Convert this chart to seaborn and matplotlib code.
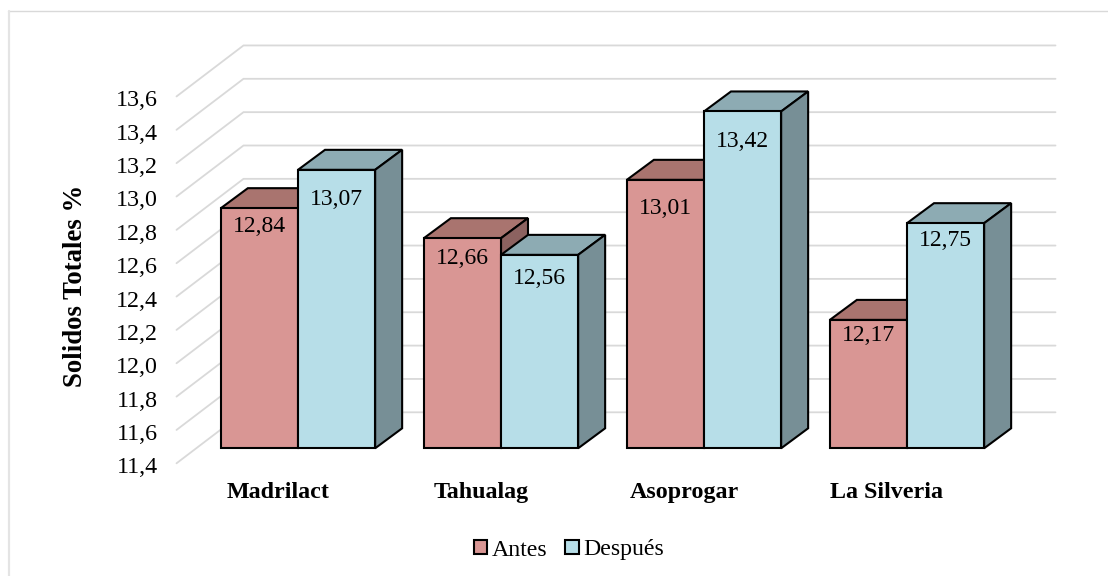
import numpy as np
import pandas as pd
import matplotlib
matplotlib.use('Agg')
import matplotlib.pyplot as plt
from matplotlib.patches import Polygon, Rectangle
from matplotlib.lines import Line2D
from matplotlib.transforms import ScaledTranslation
import seaborn as sns

categorias = ['Madrilact', 'Tahualag', 'Asoprogar', 'La Silveria']
antes = [12.84, 12.66, 13.01, 12.17]
despues = [13.07, 12.56, 13.42, 12.75]
y_ticks = [11.4, 11.6, 11.8, 12.0, 12.2, 12.4, 12.6, 12.8, 13.0, 13.2, 13.4, 13.6]

# bajada de cada etiqueta respecto a la cara superior (px)
baja_antes = [18, 20, 29, 16]
baja_despues = [30, 24, 30, 17]

W, H = 1108, 576
color_antes = '#D99694'
color_despues = '#B7DEE8'
top_antes = '#A9746F'
top_despues = '#8DABB3'
side_antes = '#8C6260'
side_despues = '#778F96'

sns.set_theme(style='white')
plt.rcParams['font.family'] = ['Liberation Serif', 'DejaVu Serif']
plt.rcParams['font.size'] = 17

fig = plt.figure(figsize=(W / 100, H / 100), dpi=100)

# el eje es el plano frontal de las barras, el piso queda 15 px mas abajo
px_x = 203.0
px_y = 166.75
x_izq, x_der = 196.5, 1008.5
y_base = 448.3
piso_dy = 15.0
ymin = y_ticks[0] - piso_dy / px_y
ymax = 13.6
y_bot = y_base + piso_dy
y_top = y_base - (ymax - y_ticks[0]) * px_y
ax = fig.add_axes([x_izq / W, 1 - y_bot / H, (x_der - x_izq) / W, (y_bot - y_top) / H])

df = pd.DataFrame({
    'cat': categorias * 2,
    'valor': antes + despues,
    'serie': ['Antes'] * 4 + ['Después'] * 4,
})
sns.barplot(data=df, x='cat', y='valor', hue='serie', ax=ax, width=0.76, gap=0,
            palette=[color_antes, color_despues], edgecolor='black', linewidth=1.5,
            saturation=1, legend=False, zorder=5)
ax.set_xlim(-0.5, 3.5)
ax.set_ylim(ymin, ymax)

# pared del fondo
fondo_dx, fondo_dy = 47.0, 36.0
frente_dx, frente_dy = -20.0, -15.0
for t in y_ticks:
    xs = [-0.5 + frente_dx / px_x, -0.5 + fondo_dx / px_x, 3.5 + fondo_dx / px_x]
    ys = [t + frente_dy / px_y, t + fondo_dy / px_y, t + fondo_dy / px_y]
    ax.plot(xs, ys, color='#D9D9D9', lw=1.3, clip_on=False, zorder=1, solid_joinstyle='miter')

# caras de profundidad a partir de cada barra
prof_x = 27.0 / px_x
prof_y = 20.0 / px_y
series = [(antes, top_antes, side_antes, baja_antes), (despues, top_despues, side_despues, baja_despues)]
patches = list(ax.patches)
for s, (valores, c_top, c_side, baja) in enumerate(series):
    for i, v in enumerate(valores):
        bar = patches[s * 4 + i]
        bar.set_y(y_ticks[0])
        bar.set_height(v - y_ticks[0])
        bar.set_zorder(5 + s * 2)
        bar.set_clip_on(False)
        x0 = bar.get_x()
        x1 = x0 + bar.get_width()
        z = 4 + s * 2
        ax.add_patch(Polygon([(x0, v), (x1, v), (x1 + prof_x, v + prof_y), (x0 + prof_x, v + prof_y)],
                             closed=True, fc=c_top, ec='black', lw=1.5, zorder=z, clip_on=False))
        ax.add_patch(Polygon([(x1, y_ticks[0]), (x1, v), (x1 + prof_x, v + prof_y), (x1 + prof_x, y_ticks[0] + prof_y)],
                             closed=True, fc=c_side, ec='black', lw=1.5, zorder=z, clip_on=False))
        ax.text((x0 + x1) / 2, v - baja[i] / px_y, f'{v:.2f}'.replace('.', ','), ha='center', va='center',
                color='black', fontsize=17, zorder=10)

ax.set_yticks([t + frente_dy / px_y for t in y_ticks])
ax.set_yticklabels([f'{t:.1f}'.replace('.', ',') for t in y_ticks], fontsize=17.3, color='black')
ax.set_xticks([i + frente_dx / px_x for i in range(4)])
ax.set_xticklabels(categorias, fontsize=17.3, fontweight='bold', color='black')
ax.tick_params(axis='y', length=0, pad=28)
ax.tick_params(axis='x', length=0, pad=13.5)
ax.set_xlabel('')
ax.set_ylabel('')
ax.patch.set_alpha(0)
sns.despine(ax=ax, left=True, bottom=True)

# las etiquetas del eje y quedan 2 px mas abajo
bajar = ScaledTranslation(0, -2 / 100, fig.dpi_scale_trans)
for lab in ax.get_yticklabels():
    lab.set_transform(lab.get_transform() + bajar)

fig.text(76 / W, 1 - 286 / H, 'Solidos Totales %', rotation=90, ha='center', va='center',
         fontsize=19.3, fontweight='bold', color='black')

handles = [Rectangle((0, 0), 1, 1, fc=color_antes, ec='black', lw=1.5),
           Rectangle((0, 0), 1, 1, fc=color_despues, ec='black', lw=1.5)]
fig.legend(handles, ['Antes', 'Después'], loc='center', bbox_to_anchor=(569 / W, 1 - 550 / H),
           ncol=2, frameon=False, fontsize=17.2, handlelength=0.55, handleheight=0.55,
           handletextpad=0.2, columnspacing=0.75, labelcolor='black')

# marco del grafico, solo arriba y a la izquierda
fig.add_artist(Line2D([8 / W, 1], [1 - 10.5 / H, 1 - 10.5 / H], transform=fig.transFigure, color='#D9D9D9', lw=1.0))
fig.add_artist(Line2D([9 / W, 9 / W], [0, 1 - 10.5 / H], transform=fig.transFigure, color='#E4E4E4', lw=1.6))

fig.savefig('out.png', dpi=100)
